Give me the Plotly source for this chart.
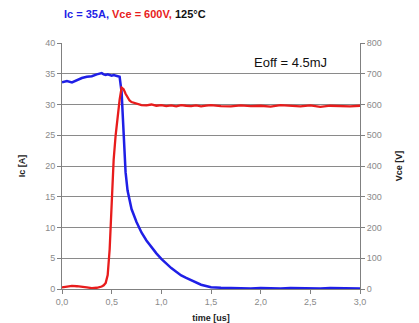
import plotly.graph_objects as go

times = [0.0, 0.05, 0.1, 0.15, 0.2, 0.25, 0.3, 0.35, 0.4, 0.42, 0.44, 0.46, 0.48, 0.5,
         0.52, 0.54, 0.56, 0.58, 0.6, 0.62, 0.64, 0.66, 0.68, 0.7, 0.75, 0.8, 0.85, 0.9,
         0.95, 1.0, 1.05, 1.1, 1.15, 1.2, 1.25, 1.3, 1.35, 1.4, 1.45, 1.5, 1.6, 1.7, 1.8,
         1.9, 2.0, 2.1, 2.2, 2.3, 2.4, 2.5, 2.6, 2.7, 2.8, 2.9, 3.0]

ic_values = [33.6, 33.8, 33.6, 34.0, 34.3, 34.5, 34.6, 34.9, 35.1, 34.9, 34.8, 34.9, 34.8, 34.7,
             34.8, 34.7, 34.6, 34.5, 32.0, 24.0, 19.0, 16.0, 14.3, 13.0, 10.9, 9.2, 7.9, 6.8,
             5.8, 4.9, 4.1, 3.4, 2.8, 2.2, 1.8, 1.4, 1.0, 0.7, 0.5, 0.3, 0.2, 0.15, 0.15,
             0.1, 0.15, 0.1, 0.1, 0.15, 0.1, 0.1, 0.1, 0.15, 0.1, 0.1, 0.1]

vce_values = [5, 8, 10, 9, 8, 5, 3, 4, 8, 12, 20, 45, 130, 260,
              420, 500, 560, 615, 655, 650, 635, 622, 613, 608, 602, 598, 597, 600,
              596, 598, 595, 597, 594, 598, 596, 595, 597, 594, 596, 598, 595, 594, 597,
              595, 596, 593, 598, 595, 594, 597, 592, 596, 595, 594, 596]

x_ticks = [0.0, 0.5, 1.0, 1.5, 2.0, 2.5, 3.0]
ic_ticks = [0, 5, 10, 15, 20, 25, 30, 35, 40]
vce_ticks = [0, 100, 200, 300, 400, 500, 600, 700, 800]

FONT = "Liberation Sans, Arial, sans-serif"
BLUE = "#1f1fe6"
RED = "#e81c1c"

fig = go.Figure()
fig.add_trace(go.Scatter(x=times, y=vce_values, yaxis="y2", mode="lines",
                         line=dict(color=RED, width=2.3), name="Vce"))
fig.add_trace(go.Scatter(x=times, y=ic_values, yaxis="y", mode="lines",
                         line=dict(color=BLUE, width=2.5), name="Ic"))

axis_common = dict(showline=True, linecolor="#808080", linewidth=1,
                   ticks="outside", ticklen=4, tickcolor="#808080",
                   tickfont=dict(family=FONT, size=9, color="#8a8a8a"),
                   zeroline=False, automargin=False)

# the page body adds an 8px offset, so the figure is sized to fit the window
fig.update_layout(
    width=411, height=315,
    margin=dict(l=54, r=59, t=35, b=34),
    paper_bgcolor="white", plot_bgcolor="white",
    showlegend=False,
    separators=",.",
    font=dict(family=FONT),
    xaxis=dict(range=[0, 3.0], tickvals=x_ticks, tickformat=".1f", showgrid=False,
               title=dict(text="<b>time [us]</b>", font=dict(family=FONT, size=9, color="#222"),
                          standoff=9),
               **axis_common),
    yaxis=dict(range=[0, 40], tickvals=ic_ticks, showgrid=True, gridcolor="#8a8a8a",
               gridwidth=1,
               title=dict(text="<b>Ic [A]</b>", font=dict(family=FONT, size=9, color="#222"),
                          standoff=18),
               **axis_common),
    yaxis2=dict(range=[0, 800], tickvals=vce_ticks, overlaying="y", side="right",
                showgrid=False,
                title=dict(text="<b>Vce [V]</b>", font=dict(family=FONT, size=9, color="#222"),
                           standoff=14),
                **axis_common),
)

fig.add_annotation(
    xref="paper", yref="paper", x=0.0, y=1.0, yshift=29, xanchor="left", yanchor="middle",
    showarrow=False,
    text=(f"<b><span style='color:{BLUE}'>Ic = 35A, </span>"
          f"<span style='color:{RED}'>Vce = 600V, </span>"
          "<span style='color:#111'>125°C</span></b>"),
    font=dict(family=FONT, size=11),
)
fig.add_annotation(
    x=2.3, y=36.9, xref="x", yref="y", showarrow=False,
    text="Eoff = 4.5mJ", font=dict(family=FONT, size=13, color="#111"),
)

fig.write_html("out.html")
